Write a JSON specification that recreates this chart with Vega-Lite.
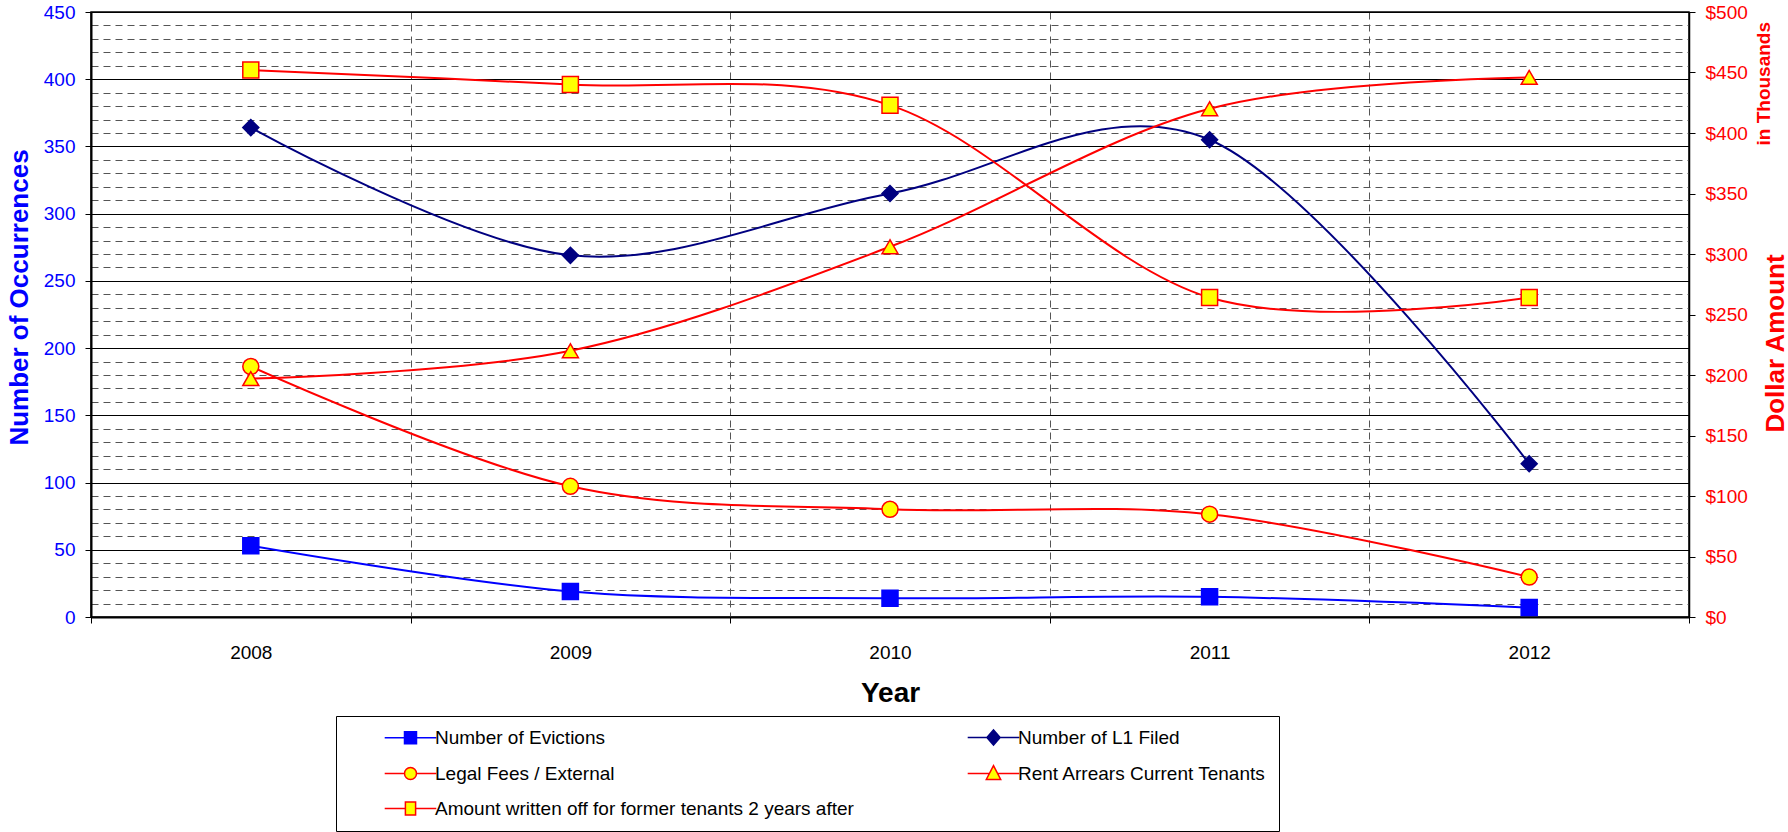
{
  "$schema": "https://vega.github.io/schema/vega-lite/v6.json",
  "width": 1598,
  "height": 605,
  "autosize": {"type": "none"},
  "padding": {"left": 91, "top": 12, "right": 99, "bottom": 215},
  "background": "white",
  "config": {
    "font": "Liberation Sans",
    "view": {"stroke": "black", "strokeWidth": 1.5},
    "axis": {"labelFont": "Liberation Sans", "titleFont": "Liberation Sans"},
    "legend": {
      "labelFont": "Liberation Sans",
      "orient": "none",
      "legendX": 245,
      "legendY": 704,
      "columns": 2,
      "direction": "horizontal",
      "gridAlign": "each",
      "labelFontSize": 19,
      "labelColor": "black",
      "labelLimit": 900,
      "symbolSize": 144,
      "symbolOffset": 53,
      "labelOffset": 15,
      "columnPadding": 77,
      "rowPadding": 14,
      "padding": 12,
      "strokeColor": "black",
      "fillColor": "white",
      "symbolStrokeWidth": 1.5,
      "symbolOpacity": 1
    }
  },
  "title": {
    "text": "in Thousands",
    "orient": "right",
    "anchor": "start",
    "frame": "group",
    "angle": 270,
    "align": "right",
    "baseline": "alphabetic",
    "fontSize": 19,
    "fontWeight": "bold",
    "color": "#FF0000",
    "font": "Liberation Sans",
    "offset": -37,
    "dx": -10
  },
  "data": {
    "values": [
      {"Year": "2008", "Series": "Number of Evictions", "Axis": "count", "Value": 53},
      {"Year": "2009", "Series": "Number of Evictions", "Axis": "count", "Value": 19},
      {"Year": "2010", "Series": "Number of Evictions", "Axis": "count", "Value": 14},
      {"Year": "2011", "Series": "Number of Evictions", "Axis": "count", "Value": 15},
      {"Year": "2012", "Series": "Number of Evictions", "Axis": "count", "Value": 7},
      {"Year": "2008", "Series": "Number of L1 Filed", "Axis": "count", "Value": 364},
      {"Year": "2009", "Series": "Number of L1 Filed", "Axis": "count", "Value": 269},
      {"Year": "2010", "Series": "Number of L1 Filed", "Axis": "count", "Value": 315},
      {"Year": "2011", "Series": "Number of L1 Filed", "Axis": "count", "Value": 355},
      {"Year": "2012", "Series": "Number of L1 Filed", "Axis": "count", "Value": 114},
      {"Year": "2008", "Series": "Legal Fees / External", "Axis": "dollar", "Value": 207},
      {"Year": "2009", "Series": "Legal Fees / External", "Axis": "dollar", "Value": 108},
      {"Year": "2010", "Series": "Legal Fees / External", "Axis": "dollar", "Value": 89},
      {"Year": "2011", "Series": "Legal Fees / External", "Axis": "dollar", "Value": 85},
      {"Year": "2012", "Series": "Legal Fees / External", "Axis": "dollar", "Value": 33},
      {"Year": "2008", "Series": "Rent Arrears Current Tenants", "Axis": "dollar", "Value": 197},
      {"Year": "2009", "Series": "Rent Arrears Current Tenants", "Axis": "dollar", "Value": 220},
      {"Year": "2010", "Series": "Rent Arrears Current Tenants", "Axis": "dollar", "Value": 306},
      {"Year": "2011", "Series": "Rent Arrears Current Tenants", "Axis": "dollar", "Value": 420},
      {"Year": "2012", "Series": "Rent Arrears Current Tenants", "Axis": "dollar", "Value": 446},
      {"Year": "2008", "Series": "Amount written off for former tenants 2 years after", "Axis": "dollar", "Value": 452},
      {"Year": "2009", "Series": "Amount written off for former tenants 2 years after", "Axis": "dollar", "Value": 440},
      {"Year": "2010", "Series": "Amount written off for former tenants 2 years after", "Axis": "dollar", "Value": 423},
      {"Year": "2011", "Series": "Amount written off for former tenants 2 years after", "Axis": "dollar", "Value": 264},
      {"Year": "2012", "Series": "Amount written off for former tenants 2 years after", "Axis": "dollar", "Value": 264}
    ]
  },
  "encoding": {
    "x": {
      "field": "Year",
      "type": "ordinal",
      "scale": {"type": "band", "paddingInner": 0, "paddingOuter": 0},
      "bandPosition": 0.5,
      "axis": {
        "title": "Year",
        "tickBand": "extent",
        "grid": true,
        "gridDash": [7, 5],
        "gridColor": "#555555",
        "gridWidth": 1,
        "labelAngle": 0,
        "labelFontSize": 19,
        "labelColor": "black",
        "labelPadding": 20,
        "tickSize": 6,
        "tickColor": "black",
        "domainColor": "black",
        "domainWidth": 2,
        "titleFontSize": 28,
        "titleFontWeight": "bold",
        "titleColor": "black",
        "titleY": 84,
        "titleBaseline": "alphabetic"
      }
    }
  },
  "layer": [
    {
      "transform": [{"filter": "datum.Axis === 'count'"}],
      "encoding": {
        "y": {
          "field": "Value",
          "type": "quantitative",
          "scale": {"domain": [0, 450], "nice": false},
          "axis": {
            "orient": "left",
            "values": [0,10,20,30,40,50,60,70,80,90,100,110,120,130,140,150,160,170,180,190,200,210,220,230,240,250,260,270,280,290,300,310,320,330,340,350,360,370,380,390,400,410,420,430,440,450],
            "title": "Number of Occurrences",
            "titleFontSize": 26,
            "titleFontWeight": "bold",
            "titleColor": "#0000FF",
            "titleAngle": 270,
            "titleX": -64,
            "titleY": 285,
            "titleAlign": "center",
            "titleBaseline": "alphabetic",
            "labelFontSize": 19,
            "labelColor": "#0000FF",
            "labelOverlap": false,
            "labelExpr": "datum.value % 50 === 0 ? datum.label : ''",
            "labelPadding": 10,
            "tickSize": 6,
            "tickColor": {"condition": {"test": "datum.value % 50 === 0", "value": "black"}, "value": "transparent"},
            "grid": true,
            "gridColor": {"condition": {"test": "datum.value % 50 === 0", "value": "black"}, "value": "#555555"},
            "gridDash": {"condition": {"test": "datum.value % 50 === 0", "value": []}, "value": [7, 5]},
            "gridWidth": 1,
            "domainColor": "black",
            "domainWidth": 2
          }
        }
      },
      "layer": [
        {
          "mark": {"type": "line", "interpolate": "cardinal", "strokeWidth": 2},
          "encoding": {
            "detail": {"field": "Series", "type": "nominal"},
            "stroke": {"condition": {"test": "datum.Series === 'Number of L1 Filed'", "value": "#000080"}, "value": "#0000FF"}
          }
        },
        {
          "mark": {"type": "point", "filled": true, "size": 256, "strokeWidth": 1.5, "opacity": 1},
          "encoding": {
            "shape": {"condition": {"test": "datum.Series === 'Number of L1 Filed'", "value": "diamond"}, "value": "square"},
            "fill": {"condition": {"test": "datum.Series === 'Number of L1 Filed'", "value": "#000080"}, "value": "#0000FF"},
            "stroke": {"condition": {"test": "datum.Series === 'Number of L1 Filed'", "value": "#000080"}, "value": "#0000FF"}
          }
        },
        {
          "mark": {"type": "point", "filled": true, "opacity": 0},
          "encoding": {
            "shape": {
              "field": "Series", "type": "nominal",
              "scale": {"domain": ["Number of Evictions","Number of L1 Filed","Legal Fees / External","Rent Arrears Current Tenants","Amount written off for former tenants 2 years after"], "range": ["M-4.3,0H-1M1,0H4.3M-1,-1H1V1H-1Z","M-4.3,0H-1.1M1.1,0H4.3M-1.1,0L0,-1.25L1.1,0L0,1.25Z","M-4.3,0H-1M1,0H4.3M1,0A1,1,0,1,1,-1,0A1,1,0,1,1,1,0Z","M-4.3,0H-0.7M0.7,0H4.3M0,-1.3L1.2,1H-1.2Z","M-4.3,0H-0.85M0.85,0H4.3M-0.85,-1.1H0.85V1.1H-0.85Z"]},
              "legend": {"title": null}
            },
            "stroke": {
              "field": "Series", "type": "nominal",
              "scale": {"domain": ["Number of Evictions","Number of L1 Filed","Legal Fees / External","Rent Arrears Current Tenants","Amount written off for former tenants 2 years after"], "range": ["#0000FF","#000080","#FF0000","#FF0000","#FF0000"]},
              "legend": {"title": null}
            },
            "fill": {
              "field": "Series", "type": "nominal",
              "scale": {"domain": ["Number of Evictions","Number of L1 Filed","Legal Fees / External","Rent Arrears Current Tenants","Amount written off for former tenants 2 years after"], "range": ["#0000FF","#000080","#FFFF00","#FFFF00","#FFFF00"]},
              "legend": {"title": null}
            }
          }
        }
      ]
    },
    {
      "transform": [{"filter": "datum.Axis === 'dollar'"}],
      "encoding": {
        "y": {
          "field": "Value",
          "type": "quantitative",
          "scale": {"domain": [0, 500], "nice": false},
          "axis": {
            "orient": "right",
            "values": [0,50,100,150,200,250,300,350,400,450,500],
            "format": "$.0f",
            "title": "Dollar Amount",
            "titleFontSize": 26,
            "titleFontWeight": "bold",
            "titleColor": "#FF0000",
            "titleAngle": 270,
            "titleX": 94,
            "titleY": 331,
            "titleAlign": "center",
            "titleBaseline": "alphabetic",
            "labelFontSize": 19,
            "labelColor": "#FF0000",
            "labelPadding": 10,
            "labelOverlap": false,
            "tickSize": 6,
            "tickColor": "black",
            "grid": false,
            "domainColor": "black",
            "domainWidth": 1.5
          }
        }
      },
      "layer": [
        {
          "mark": {"type": "line", "interpolate": "cardinal", "strokeWidth": 2, "stroke": "#FF0000"},
          "encoding": {
            "detail": {"field": "Series", "type": "nominal"}
          }
        },
        {
          "mark": {"type": "point", "filled": true, "size": 256, "strokeWidth": 1.5, "opacity": 1, "fill": "#FFFF00", "stroke": "#FF0000"},
          "encoding": {
            "shape": {"condition": [{"test": "datum.Series === 'Legal Fees / External'", "value": "circle"}, {"test": "datum.Series === 'Rent Arrears Current Tenants'", "value": "triangle-up"}], "value": "square"}
          }
        }
      ]
    }
  ],
  "resolve": {"scale": {"y": "independent"}}
}
